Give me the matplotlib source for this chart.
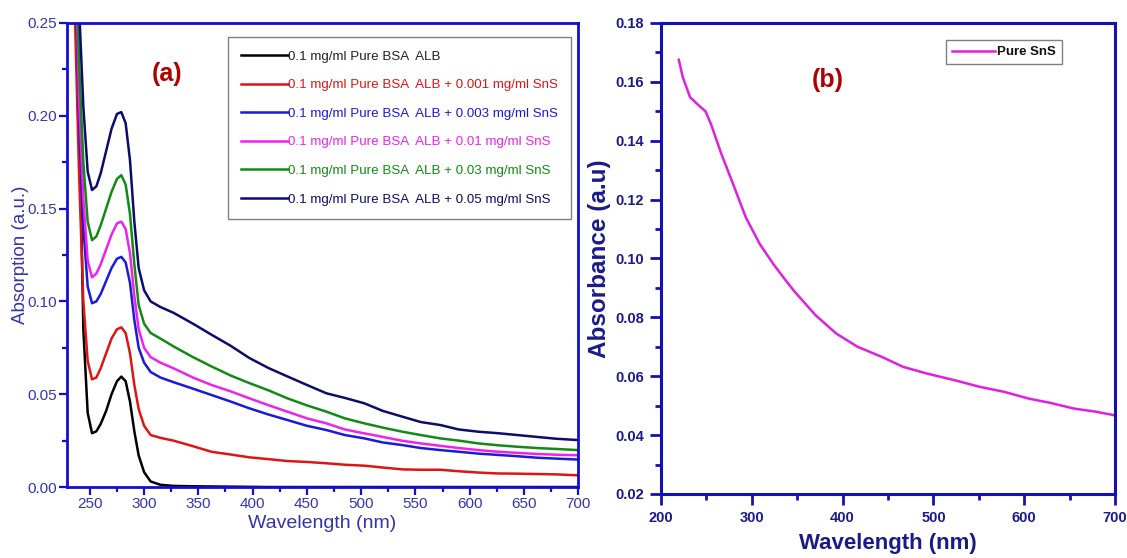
import matplotlib.pyplot as plt
from matplotlib.ticker import MultipleLocator

# ---- panel (a) data: BSA albumin + SnS
wl = [232, 236, 240, 244, 248, 252, 256, 260, 265, 270, 275, 279, 283, 287, 291, 295,
      300, 306, 315, 327, 345, 362, 380, 397, 415, 432, 450, 468, 485, 503, 520, 538,
      555, 573, 590, 608, 626, 644, 662, 680, 700]

bsa = [0.50, 0.35, 0.21, 0.085, 0.040, 0.029, 0.030, 0.034, 0.041, 0.050, 0.057, 0.0595,
       0.057, 0.046, 0.030, 0.017, 0.008, 0.003, 0.0012, 0.0006, 0.0004, 0.0003, 0.0002,
       0.0001, 0, 0, 0, 0, 0, 0, 0, 0, 0, 0, 0, 0, 0, 0, 0, 0, 0]
sns_001 = [0.45, 0.26, 0.17, 0.10, 0.068, 0.058, 0.059, 0.064, 0.072, 0.080, 0.085, 0.086,
           0.083, 0.072, 0.055, 0.042, 0.033, 0.028, 0.0265, 0.025, 0.022, 0.019, 0.0175,
           0.016, 0.015, 0.014, 0.0135, 0.0128, 0.012, 0.0115, 0.0105, 0.0095, 0.0093,
           0.0093, 0.0085, 0.0078, 0.0073, 0.0072, 0.0070, 0.0068, 0.0063]
sns_003 = [0.45, 0.30, 0.20, 0.14, 0.108, 0.099, 0.100, 0.104, 0.111, 0.118, 0.123, 0.124,
           0.121, 0.110, 0.090, 0.075, 0.067, 0.062, 0.059, 0.0565, 0.053, 0.0496, 0.046,
           0.0424, 0.039, 0.0361, 0.033, 0.0307, 0.028, 0.0262, 0.024, 0.0226, 0.021,
           0.0199, 0.019, 0.018, 0.0173, 0.0166, 0.0158, 0.0153, 0.0148]
sns_01 = [0.45, 0.31, 0.21, 0.155, 0.122, 0.113, 0.115, 0.120, 0.128, 0.136, 0.142, 0.143,
          0.139, 0.126, 0.103, 0.085, 0.075, 0.070, 0.067, 0.064, 0.059, 0.055, 0.0515,
          0.0478, 0.044, 0.0406, 0.037, 0.0343, 0.031, 0.0289, 0.027, 0.0249, 0.0235,
          0.0222, 0.021, 0.0199, 0.019, 0.0184, 0.0178, 0.0174, 0.0171]
sns_03 = [0.46, 0.32, 0.23, 0.175, 0.143, 0.133, 0.135, 0.141, 0.150, 0.159, 0.166, 0.168,
          0.163, 0.147, 0.120, 0.098, 0.088, 0.083, 0.080, 0.0758, 0.070, 0.065, 0.060,
          0.056, 0.052, 0.0478, 0.044, 0.0406, 0.037, 0.0343, 0.032, 0.0298, 0.028,
          0.0262, 0.025, 0.0235, 0.0225, 0.0217, 0.021, 0.0205, 0.0199]
sns_05 = [0.48, 0.35, 0.26, 0.205, 0.170, 0.160, 0.162, 0.169, 0.181, 0.193, 0.201, 0.202,
          0.196, 0.176, 0.143, 0.118, 0.106, 0.100, 0.097, 0.0939, 0.088, 0.0821, 0.076,
          0.0695, 0.064, 0.0596, 0.055, 0.0505, 0.048, 0.0451, 0.041, 0.0379, 0.035,
          0.0334, 0.031, 0.0298, 0.029, 0.028, 0.027, 0.026, 0.0253]

labels_a = ["0.1 mg/ml Pure BSA  ALB",
            "0.1 mg/ml Pure BSA  ALB + 0.001 mg/ml SnS",
            "0.1 mg/ml Pure BSA  ALB + 0.003 mg/ml SnS",
            "0.1 mg/ml Pure BSA  ALB + 0.01 mg/ml SnS",
            "0.1 mg/ml Pure BSA  ALB + 0.03 mg/ml SnS",
            "0.1 mg/ml Pure BSA  ALB + 0.05 mg/ml SnS"]
colors_a = ["#000000", "#dd1515", "#1a1ad8", "#ee22ee", "#138a13", "#0c0c6c"]

# ---- panel (b) data: pure SnS
wl_b = [219.6, 224, 232, 243, 249, 255, 266.5, 278, 293.5, 309, 324, 338, 347, 370, 393,
        416.5, 443, 466.5, 493, 524, 551, 578, 605, 628, 655, 678, 700]
abs_b = [0.1675, 0.1616, 0.1548, 0.1516, 0.150, 0.1457, 0.1355, 0.1264, 0.1139, 0.1048,
         0.098, 0.0923, 0.0888, 0.0808, 0.0745, 0.070, 0.0666, 0.0632, 0.0609, 0.0586,
         0.0564, 0.0547, 0.0524, 0.051, 0.049, 0.048, 0.0467]

sans = ["Liberation Sans", "DejaVu Sans"]
spine_a = "#1010d0"
text_a = "#3434b0"
spine_b = "#1212b0"
text_b = "#1a1a8a"

fig = plt.figure(figsize=(11.27, 5.58), dpi=100)
ax1 = fig.add_axes([0.0595, 0.1272, 0.4535, 0.8316])
ax2 = fig.add_axes([0.5865, 0.1147, 0.4029, 0.8441])

# panel (a)
series = [bsa, sns_001, sns_003, sns_01, sns_03, sns_05]
for ys, c, lab in zip(series, colors_a, labels_a):
    ax1.plot(wl, ys, color=c, linewidth=1.8, label=lab)

ax1.set_xlim(229, 700)
ax1.set_ylim(0, 0.25)
ax1.xaxis.set_minor_locator(MultipleLocator(25))
ax1.yaxis.set_major_locator(MultipleLocator(0.05))
ax1.yaxis.set_minor_locator(MultipleLocator(0.025))
ax1.set_xticks(range(250, 701, 50))
ax1.yaxis.set_major_formatter(plt.FuncFormatter(lambda v, p: "%.2f" % v))
ax1.tick_params(which='major', direction='out', length=6, width=1.6, color=spine_a,
                labelcolor=text_a, labelsize=11, pad=1)
ax1.tick_params(which='minor', direction='out', length=3.5, width=1.6, color=spine_a)
for lab in ax1.get_xticklabels() + ax1.get_yticklabels():
    lab.set_family(sans)
ax1.set_xlabel("Wavelength (nm)", color=text_a, fontsize=14, family=sans, labelpad=3)
ax1.set_ylabel("Absorption (a.u.)", color=text_a, fontsize=13.5, family=sans, labelpad=-1)
for s in ax1.spines.values():
    s.set_color(spine_a)
    s.set_linewidth(2)
ax1.text(0.196, 0.89, "(a)", transform=ax1.transAxes, color="#b00000", fontsize=18,
         fontweight='bold', ha='center', va='center', family=sans)
leg = ax1.legend(loc='upper left', bbox_to_anchor=(0.315, 0.97),
                 prop={'family': sans, 'size': 9.6}, labelcolor='linecolor',
                 handlelength=3.5, handletextpad=0.0, labelspacing=1.22,
                 borderpad=1.0, borderaxespad=0, fancybox=False, framealpha=1)
leg.get_frame().set_edgecolor("#808080")
leg.get_frame().set_linewidth(1)
leg.get_texts()[0].set_color("#222222")

# panel (b)
ax2.plot(wl_b, abs_b, color="#e020e0", linewidth=1.8, label="Pure SnS")
ax2.set_xlim(200, 700)
ax2.set_ylim(0.02, 0.18)
ax2.xaxis.set_major_locator(MultipleLocator(100))
ax2.xaxis.set_minor_locator(MultipleLocator(50))
ax2.yaxis.set_major_locator(MultipleLocator(0.02))
ax2.yaxis.set_minor_locator(MultipleLocator(0.01))
ax2.yaxis.set_major_formatter(plt.FuncFormatter(lambda v, p: "%.2f" % v))
ax2.tick_params(which='major', direction='out', length=8, width=2, color=spine_b,
                labelcolor=text_b, labelsize=10.5, pad=4)
ax2.tick_params(which='minor', direction='out', length=4, width=2, color=spine_b)
for lab in ax2.get_xticklabels() + ax2.get_yticklabels():
    lab.set_family(sans)
    lab.set_fontweight('bold')
for s in ax2.spines.values():
    s.set_color(spine_b)
    s.set_linewidth(2.2)
ax2.set_xlabel("Wavelength (nm)", color=text_b, fontsize=16, fontweight='bold',
               family=sans, labelpad=6)
ax2.set_ylabel("Absorbance (a.u)", color=text_b, fontsize=17.5, fontweight='bold',
               family=sans, labelpad=3)
ax2.text(0.368, 0.88, "(b)", transform=ax2.transAxes, color="#b00000", fontsize=18,
         fontweight='bold', ha='center', va='center', family=sans)
leg2 = ax2.legend(loc='upper right', bbox_to_anchor=(0.883, 0.964),
                  prop={'family': sans, 'size': 9.5, 'weight': 'bold'},
                  handlelength=3.2, handletextpad=0.2, borderpad=0.45, borderaxespad=0,
                  fancybox=False, framealpha=1)
leg2.get_frame().set_edgecolor("#808080")
leg2.get_texts()[0].set_color("#111111")

fig.savefig("out.png", dpi=100)
